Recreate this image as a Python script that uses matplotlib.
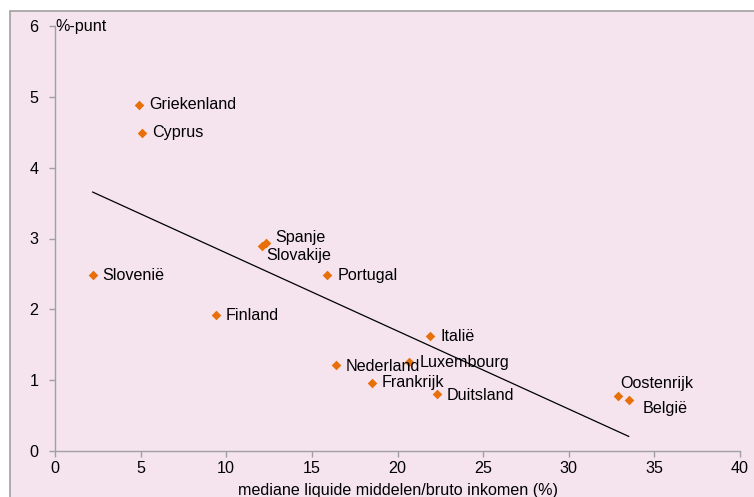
import matplotlib
matplotlib.use("Agg")
import matplotlib.pyplot as plt
from matplotlib.patches import Rectangle
import numpy as np

countries = ["Griekenland", "Cyprus", "Slovenië", "Spanje", "Slovakije", "Portugal",
             "Finland", "Italië", "Luxembourg", "Nederland", "Frankrijk", "Duitsland",
             "Oostenrijk", "België"]
x_vals = [4.9, 5.1, 2.2, 12.3, 12.1, 15.9, 9.4, 21.9, 20.7, 16.4, 18.5, 22.3, 32.9, 33.5]
y_vals = [4.89, 4.49, 2.48, 2.93, 2.90, 2.48, 1.92, 1.63, 1.26, 1.21, 0.96, 0.81, 0.77, 0.72]
trend_slope = -0.1102
trend_intercept = 3.898
x_ticks = [0, 5, 10, 15, 20, 25, 30, 35, 40]
y_ticks = [0, 1, 2, 3, 4, 5, 6]

# label offsets in pixels (dx, dy)
label_offsets = {
    "Griekenland": (10, 0), "Cyprus": (10, 0), "Slovenië": (10, 0),
    "Spanje": (10, 6), "Slovakije": (4, -10), "Portugal": (10, 0),
    "Finland": (10, 0), "Italië": (10, -1), "Luxembourg": (10, -1),
    "Nederland": (10, -1), "Frankrijk": (10, 0), "Duitsland": (10, -2),
    "Oostenrijk": (2, 13), "België": (14, -9),
}

plt.rcParams['font.family'] = ['Liberation Sans', 'DejaVu Sans']
FS = 11.6
W, H = 754, 497
fig = plt.figure(figsize=(W / 100, H / 100), dpi=100, facecolor='white')
bg = Rectangle((10 / W, -0.02), 1.0, 1 - 11 / H + 0.02, transform=fig.transFigure,
               facecolor='#F5E4EE', edgecolor='#A0A0A0', linewidth=1.2, zorder=-5)
fig.patches.append(bg)

ax = fig.add_axes([55 / W, 1 - 451 / H, (740 - 55) / W, (451 - 26) / H])
ax.set_zorder(1)
ax.set_facecolor('none')

ax.scatter(x_vals, y_vals, marker='D', s=24, color='#E8700A', zorder=3, linewidths=0)
xs = np.array([min(x_vals), max(x_vals)])
ax.plot(xs, trend_intercept + trend_slope * xs, color='black', linewidth=0.9, zorder=2)

for name, xv, yv in zip(countries, x_vals, y_vals):
    dx, dy = label_offsets[name]
    ax.annotate(name, (xv, yv), xytext=(dx, dy), textcoords='offset pixels',
                ha='left', va='center', fontsize=FS, color='black')

ax.set_xlim(0, 40)
ax.set_ylim(0, 6)
ax.set_xticks(x_ticks)
ax.set_yticks(y_ticks)
for s in ['top', 'right']:
    ax.spines[s].set_visible(False)
for s in ['left', 'bottom']:
    ax.spines[s].set_color('#A0A0A0')
    ax.spines[s].set_linewidth(1.0)
ax.tick_params(axis='both', colors='#A0A0A0', labelcolor='black', labelsize=FS,
               length=4, width=1.0, direction='out')
ax.tick_params(axis='y', pad=8)
ax.tick_params(axis='x', pad=3)

ax.text(0.05, 6, "%-punt", transform=ax.transData, ha='left', va='center', fontsize=FS)
ax.set_xlabel("mediane liquide middelen/bruto inkomen (%)", fontsize=FS, labelpad=5)

fig.savefig("out.png", dpi=100, facecolor='white')
